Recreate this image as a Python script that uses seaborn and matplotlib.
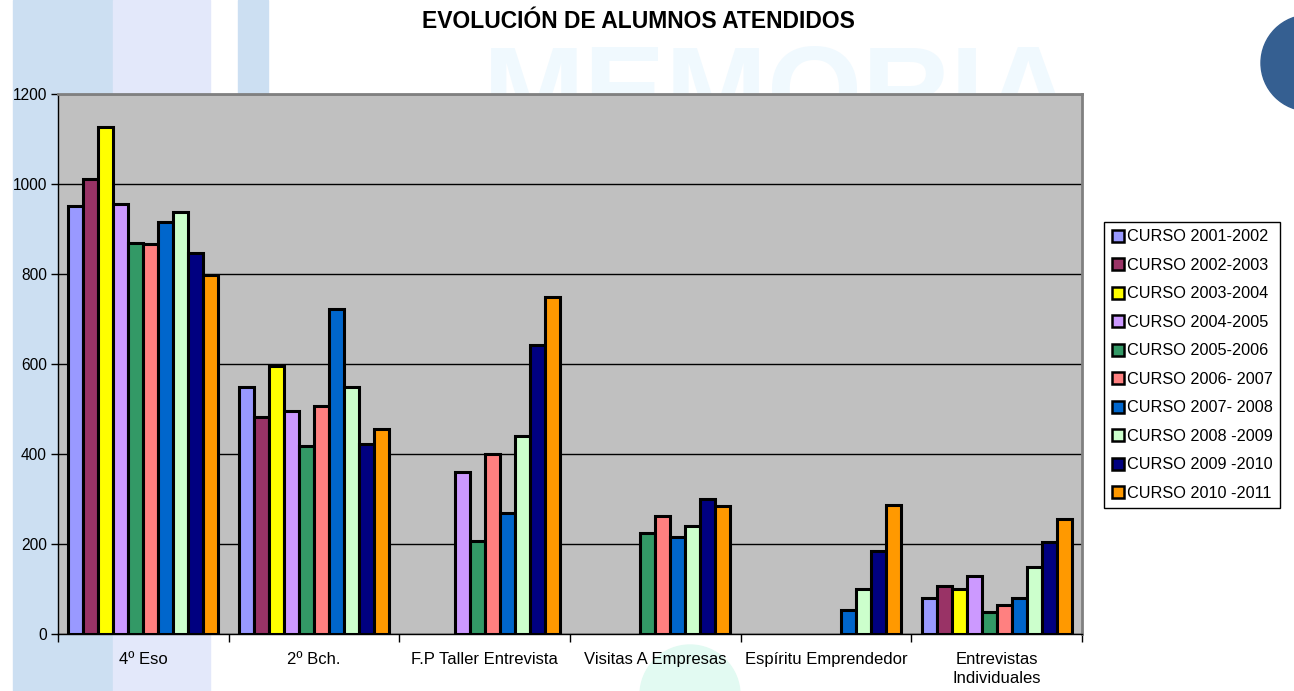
"""
Grafico de barras agrupadas: evolucion de alumnos atendidos
por actividad y curso escolar.
"""

import numpy as np
import pandas as pd
import matplotlib.pyplot as plt
from matplotlib.patches import Rectangle, Circle
from matplotlib.lines import Line2D
import seaborn as sns


categorias = ['4º Eso', '2º Bch.', 'F.P Taller Entrevista', 'Visitas A Empresas',
              'Espíritu Emprendedor', 'Entrevistas\nIndividuales']

cursos = ['CURSO 2001-2002', 'CURSO 2002-2003', 'CURSO 2003-2004',
          'CURSO 2004-2005', 'CURSO 2005-2006', 'CURSO 2006- 2007',
          'CURSO 2007- 2008', 'CURSO 2008 -2009', 'CURSO 2009 -2010',
          'CURSO 2010 -2011']

colores = ['#9999FF', '#993366', '#FFFF00', '#CC99FF', '#339966',
           '#FF8080', '#0066CC', '#CCFFCC', '#000080', '#FF9900']

nan = np.nan
# valores por curso, en el orden de las categorias
c2001 = [952, 548, nan, nan, nan, 79]
c2002 = [1011, 482, nan, nan, nan, 106]
c2003 = [1127, 596, nan, nan, nan, 101]
c2004 = [956, 496, 360, nan, nan, 130]
c2005 = [870, 418, 207, 224, nan, 49]
c2006 = [866, 507, 400, 262, nan, 65]
c2007 = [915, 723, 269, 216, 54, 80]
c2008 = [938, 550, 439, 239, 101, 149]
c2009 = [847, 423, 643, 301, 184, 205]
c2010 = [797, 455, 750, 285, 286, 256]

valores = [c2001, c2002, c2003, c2004, c2005, c2006, c2007, c2008, c2009, c2010]


def tabla():
    filas = []
    for curso, serie in zip(cursos, valores):
        for cat, v in zip(categorias, serie):
            filas.append({'Actividad': cat, 'Curso': curso, 'Alumnos': v})
    return pd.DataFrame(filas)


def fondo(fig):
    # franjas y logotipos de la plantilla de fondo
    fig.patches.append(Rectangle((13 / 1294, 0), 100 / 1294, 1,
                                 transform=fig.transFigure,
                                 color='#CCDFF2', zorder=-10))
    fig.patches.append(Rectangle((113 / 1294, 0), 97 / 1294, 1,
                                 transform=fig.transFigure,
                                 color='#E3E8FA', zorder=-10))
    fig.patches.append(Rectangle((238 / 1294, 0.5), 30 / 1294, 0.5,
                                 transform=fig.transFigure,
                                 color='#CCDFF2', zorder=-10))
    fig.patches.append(Circle((1309, 691 - 63), 48,
                              transform=None, color='#355F91', zorder=-9))
    fig.patches.append(Circle((690, 691 - 695), 50, transform=None,
                              color='#E2FAF2', zorder=-9))
    fig.text(778 / 1294, 1 - 132 / 691, 'MEMORIA', ha='center', va='baseline',
             fontsize=88, fontweight='bold', color='#F0F9FE',
             family='Liberation Sans', zorder=-8)


def plot(df):
    sns.set_style('white')
    plt.rcParams['font.family'] = ['Liberation Sans', 'DejaVu Sans']
    plt.rcParams['text.color'] = 'black'
    plt.rcParams['xtick.color'] = 'black'
    plt.rcParams['ytick.color'] = 'black'
    fig = plt.figure(figsize=(12.94, 6.91), dpi=100)
    fondo(fig)
    ax = fig.add_axes([58 / 1294, 57 / 691, 1024 / 1294, 540 / 691])
    ax.set_facecolor('#C0C0C0')

    sns.barplot(data=df, x='Actividad', y='Alumnos', hue='Curso',
                order=categorias, hue_order=cursos, palette=colores,
                width=0.88, gap=0, edgecolor='black', linewidth=2.2,
                saturation=1, errorbar=None, ax=ax, zorder=3)

    ax.set_ylim(0, 1200)
    ax.set_xlim(-0.5, 5.5)
    ax.set_yticks(range(0, 1201, 200))
    ax.yaxis.grid(True, color='black', linewidth=1, zorder=0)
    ax.set_axisbelow(True)
    ax.tick_params(axis='y', direction='out', length=5, width=1,
                   labelsize=11.2, left=True, pad=3)
    ax.set_xticks(range(6))
    ax.set_xticklabels(categorias, fontsize=12, linespacing=1.35)
    ax.tick_params(axis='x', length=0, pad=13)
    ax.set_xticks(np.arange(-0.5, 6, 1), minor=True)
    ax.tick_params(axis='x', which='minor', direction='out', length=6,
                   width=1, bottom=True)
    ax.set_xlabel('')
    ax.set_ylabel('')
    for lado in ['left', 'bottom']:
        ax.spines[lado].set_color('black')
        ax.spines[lado].set_linewidth(1)
    for lado in ['top', 'right']:
        ax.spines[lado].set_color('#808080')
        ax.spines[lado].set_linewidth(2)

    ax.legend_.remove()
    handles = [Line2D([], [], marker='s', linestyle='', markersize=8.5,
                      markerfacecolor=c, markeredgecolor='black',
                      markeredgewidth=1.8) for c in colores]
    fig.legend(handles, cursos, loc='upper left',
               bbox_to_anchor=(1104 / 1294, 1 - 222 / 691),
               fontsize=11.7, frameon=True, fancybox=False, edgecolor='black',
               framealpha=1, handlelength=0.8, handletextpad=0.15,
               labelspacing=0.83, borderpad=0.45, borderaxespad=0)

    fig.text(638 / 1294, 1 - 22 / 691, 'EVOLUCIÓN DE ALUMNOS ATENDIDOS',
             ha='center', va='center', fontsize=16.5, fontweight='bold')
    fig.savefig('out.png', dpi=100)


def main():
    df = tabla()
    plot(df)


if __name__ == '__main__':
    main()
